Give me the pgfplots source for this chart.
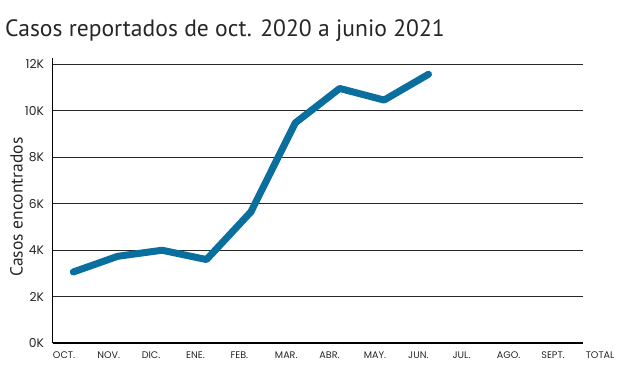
\documentclass[border=0pt]{standalone}
\usepackage{fontspec}
\setmainfont{PT Sans}
\newfontfamily\tickfont{Poppins}
\usepackage{pgfplots}
\pgfplotsset{compat=1.18}
\definecolor{lineblue}{RGB}{10,110,158}
\definecolor{gridc}{RGB}{40,40,40}
\begin{document}
\begin{tikzpicture}
\useasboundingbox (0,0) rectangle (627bp,370bp);
\node[anchor=base west, inner sep=0pt, font=\fontsize{23.6bp}{27bp}\selectfont, text=black!85] at (5bp,333bp) {Casos reportados de oct. 2020 a junio 2021};
\node[rotate=90, anchor=base, inner sep=0pt, font=\fontsize{17.5bp}{20bp}\selectfont, text=black!85] at (22.5bp,163bp) {Casos encontrados};
\begin{axis}[
  at={(52.7bp,27bp)}, anchor=south west,
  scale only axis,
  width=530.3bp, height=285bp,
  xmin=-0.464, xmax=11.48,
  ymin=0, ymax=12260,
  axis lines=left,
  axis line style={-, line width=1.4bp, black},
  major tick length=0pt,
  ytick={0,2000,4000,6000,8000,10000,12000},
  yticklabels={0K,2K,4K,6K,8K,10K,12K},
  xtick={0,1,2,3,4,5,6,7,8,9,10,11},
  xticklabels={OCT.,NOV.,DIC.,ENE.,FEB.,MAR.,ABR.,MAY.,JUN.,JUL.,AGO.,SEPT.},
  yticklabel style={anchor=east, inner sep=0pt, xshift=-8.5bp, font=\tickfont\fontsize{12.3bp}{13bp}\selectfont, text=black!85},
  xticklabel style={anchor=north west, inner sep=0pt, xshift=-20.5bp, yshift=-8.7bp, font=\tickfont\fontsize{9.6bp}{11bp}\selectfont, text=black!85},
  ymajorgrids,
  grid style={line width=1bp, gridc},
  clip=false,
  scaled y ticks=false,
]
\addplot[lineblue, line width=7bp, line join=round, line cap=round] coordinates {
  (0,3054) (1,3730) (2,3990) (3,3590) (4,5640) (5,9470) (6,10950) (7,10450) (8,11560)
};
\node[anchor=north west, inner sep=0pt, xshift=-20.5bp, yshift=-8.7bp, font=\tickfont\fontsize{9.6bp}{11bp}\selectfont, text=black!85] at (axis cs:12,0) {TOTAL};
\end{axis}
\end{tikzpicture}
\end{document}
